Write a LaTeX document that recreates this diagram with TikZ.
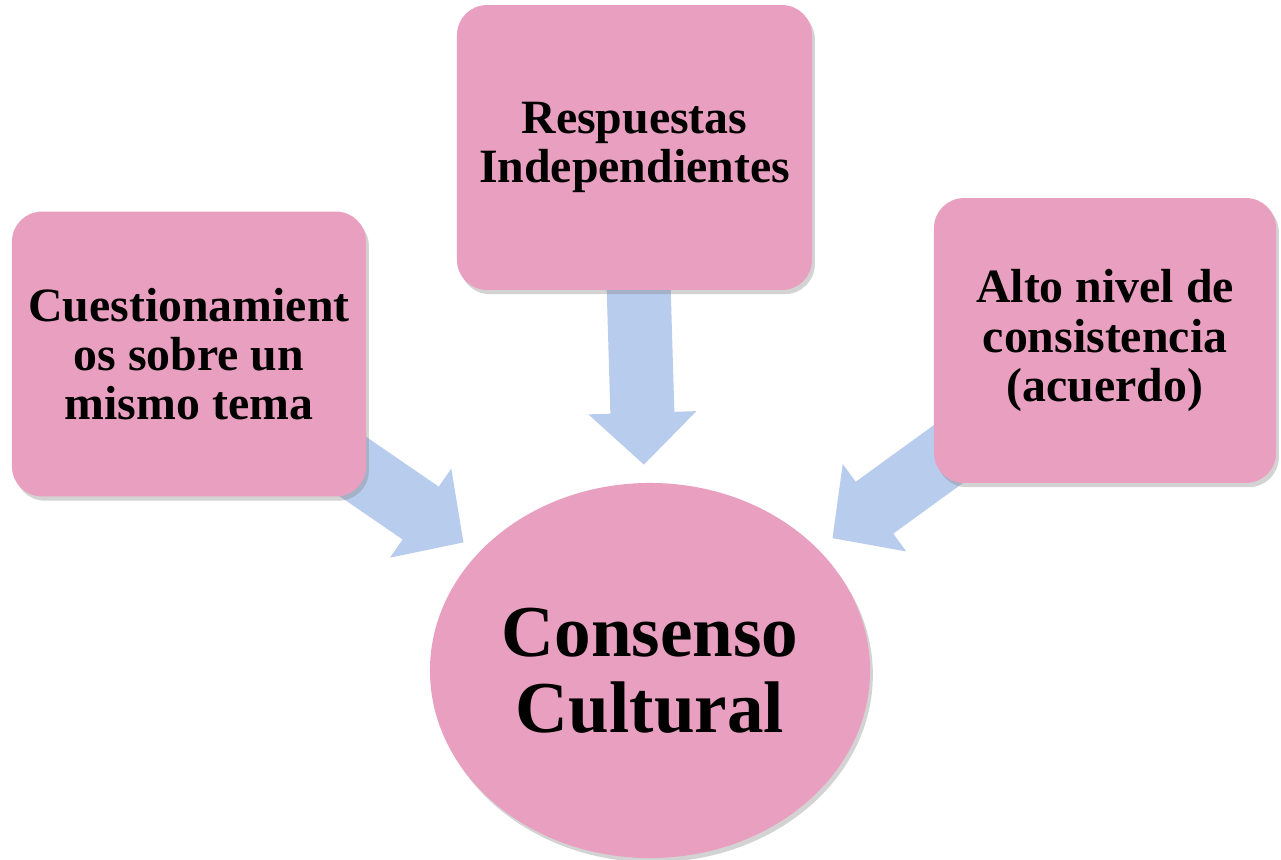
\documentclass[tikz,border=0pt]{standalone}
\usepackage{fontspec}
\setmainfont{Liberation Serif}
\usepackage{tikz}
\usetikzlibrary{positioning, shapes.geometric, arrows.meta, backgrounds, shadows}

\definecolor{boxpink}{RGB}{233,160,192}
\definecolor{arrowblue}{RGB}{184,204,237}

\begin{document}
\begin{tikzpicture}[x=0.025cm, y=-0.025cm,
		idea/.style = {rectangle, rounded corners=0.75cm, fill=boxpink, align=center,
			minimum height=7.12cm, inner sep=0pt,
			font=\fontsize{34}{35}\selectfont\bfseries,
			drop shadow={shadow xshift=2pt, shadow yshift=-3pt, opacity=0.35}},
		center/.style = {ellipse, fill=boxpink, align=center, inner sep=0pt,
			minimum width=11cm, minimum height=9.375cm,
			font=\fontsize{52}{54}\selectfont\bfseries,
			drop shadow={shadow xshift=2pt, shadow yshift=-3pt, opacity=0.35}},
		bigarrow/.style = {draw=arrowblue, line width=1.6cm,
			-{Triangle[width=2.625cm, length=1.3cm]}, shorten >=0.45cm}]
	\clip (0,0) rectangle (1281,860);

	\node[idea, minimum width=8.85cm] (cuest) at (189,354) {Cuestionamient\\os sobre un\\mismo tema};
	\node[idea, minimum width=8.875cm] (resp) at (634.5,147.5) {Respuestas\\Independientes};
	\node[idea, minimum width=8.55cm] (alto) at (1105,340.5) {Alto nivel de\\consistencia\\(acuerdo)};
	\node[center] (consenso) at (650,670.5) {Consenso\\Cultural};

	\begin{scope}[on background layer]
		\draw[bigarrow] (cuest.center) -- (consenso);
		\draw[bigarrow] (resp.center) -- (consenso);
		\draw[bigarrow] (alto.center) -- (consenso);
	\end{scope}
\end{tikzpicture}
\end{document}
